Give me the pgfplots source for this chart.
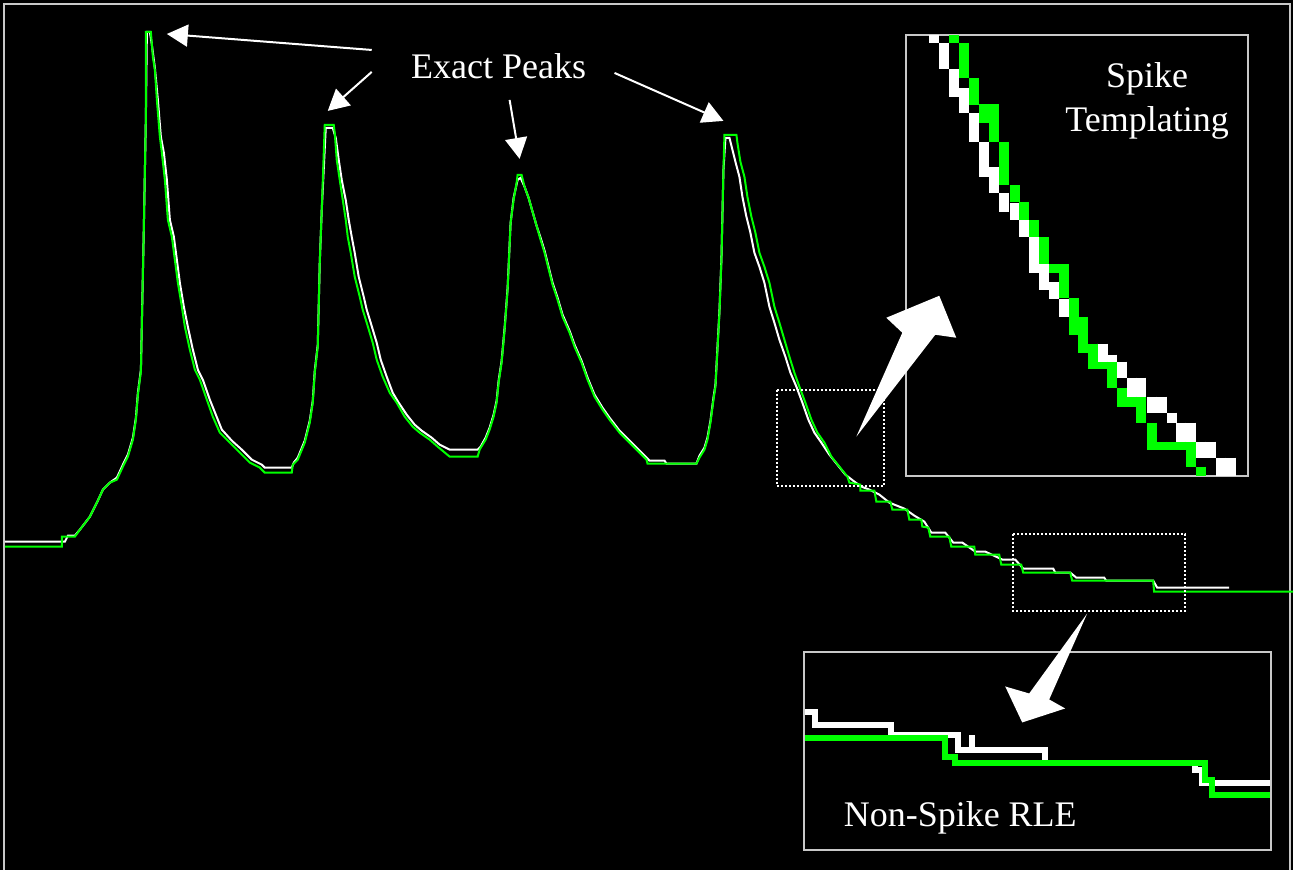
\documentclass[border=0pt]{standalone}
\usepackage{pgfplots}
\pgfplotsset{compat=1.18}
\usepackage{fontspec}
\setmainfont{Liberation Serif}
\usetikzlibrary{arrows.meta}
\definecolor{lime}{RGB}{0,255,0}
\definecolor{framegray}{RGB}{200,200,200}
\begin{document}
\begin{tikzpicture}
\fill[black] (0,0) rectangle (647pt,435.5pt);
\begin{axis}[at={(0,0)},anchor=south west,
  width=647pt,height=435.5pt,scale only axis,
  xmin=0,xmax=1294,ymin=0,ymax=871,y dir=reverse,
  axis lines=none,xtick=\empty,ytick=\empty,clip=false,
  unbounded coords=jump]
% frame
\draw[framegray,line width=0.6pt] (axis cs:4,871) -- (axis cs:4,4) -- (axis cs:1291,4) -- (axis cs:1291,871);
% white (original) signal
\addplot[white,line width=1pt,sharp plot] coordinates {
(5,542) (65,542) (68,536) (75,536) (80,530) (90,517) (97,503) (103,490) (110,483) (117,478) (123,465) (128,455) (133,438) (136,418) (138,393) (141,370) (144,225) (146,117) (147,32) (150,32) (152,45) (155,68) (158,100) (161,137) (164,153) (167,180) (170,220) (174,237) (177,260) (180,283) (184,307) (188,327) (193,350) (198,370) (203,380) (210,400) (216,415) (222,430) (232,441) (242,450) (252,460) (262,465) (265,468) (292,468) (294,463) (298,458) (305,441) (310,421) (313,401) (315,371) (318,345) (320,263) (322,210) (326,128) (333,128) (336,138) (339,160) (342,180) (346,200) (349,220) (352,237) (355,253) (359,277) (364,297) (367,310) (371,323) (377,343) (381,360) (387,377) (393,393) (399,403) (407,415) (415,425) (422,431) (432,438) (440,445) (450,450) (478,450) (481,447) (486,438) (490,428) (494,415) (497,401) (499,381) (502,361) (505,328) (508,288) (511,223) (514,198) (518,180) (521,178) (525,187) (529,198) (533,212) (537,226) (541,238) (545,251) (548,263) (553,283) (558,298) (563,315) (570,331) (575,345) (582,361) (588,378) (595,395) (603,408) (610,418) (620,431) (630,441) (640,451) (647,458) (650,461) (665,461) (667,464) (697,464) (700,456) (705,448) (708,438) (711,421) (714,398) (716,385) (718,348) (720,311) (722,258) (724,170) (726,138) (730,138) (733,150) (736,162) (740,177) (743,197) (747,217) (751,233) (755,253) (760,267) (765,283) (770,307) (775,323) (780,340) (786,357) (791,373) (797,387) (803,403) (809,420) (815,433) (822,443) (830,455) (838,465) (846,475) (855,482) (862,487) (870,490) (880,495) (890,503) (905,509) (915,516) (925,522) (932,533) (946,533) (954,543) (963,543) (976,552) (986,552) (1003,560) (1016,560) (1024,569) (1054,569) (1056,573) (1071,573) (1077,578) (1105,578) (1107,581) (1154,581) (1158,588) (1230,588)
};
% green (reconstructed) signal
\addplot[lime,line width=1pt,sharp plot] coordinates {
(5,547) (62,547) (62,537) (75,537) (80,530) (90,517) (97,503) (103,490) (110,483) (117,480) (123,467) (128,457) (133,440) (136,420) (138,395) (141,372) (144,225) (146,117) (146,32) (151,32) (153,57) (155,70) (157,100) (160,137) (162,153) (165,180) (168,220) (172,237) (175,260) (178,283) (182,307) (185,327) (190,350) (195,370) (200,380) (207,400) (213,417) (220,433) (230,443) (240,453) (250,463) (260,468) (265,473) (292,473) (293,465) (298,460) (305,443) (310,423) (313,403) (315,373) (318,347) (320,263) (322,210) (325,125) (334,125) (335,133) (337,160) (340,180) (343,200) (346,220) (348,237) (351,253) (355,277) (360,297) (363,310) (367,323) (373,343) (377,360) (383,377) (390,393) (397,403) (405,417) (413,427) (420,433) (430,440) (438,447) (450,457) (478,457) (480,450) (486,440) (490,430) (494,417) (497,403) (499,383) (502,363) (505,330) (508,290) (511,223) (514,200) (517,183) (518,175) (522,175) (525,187) (529,198) (533,212) (537,226) (541,240) (545,253) (548,265) (553,285) (558,300) (563,317) (570,333) (575,347) (582,363) (588,380) (595,397) (603,410) (610,420) (620,433) (630,443) (640,453) (647,460) (648,464) (697,464) (700,458) (705,450) (708,440) (711,423) (714,400) (716,387) (718,350) (720,313) (722,260) (724,170) (725,135) (737,135) (738,143) (741,162) (745,177) (748,197) (752,217) (756,233) (760,253) (765,267) (770,283) (775,307) (780,323) (785,340) (790,357) (795,373) (800,387) (806,403) (812,420) (818,433) (825,443) (832,457) (840,467) (848,477) (850,483) (861,485) (861,491) (875,491) (877,502) (891,502) (893,510) (908,510) (910,520) (922,520) (923,527) (929,528) (931,537) (950,537) (952,547) (975,547) (976,555) (1000,555) (1002,565) (1022,565) (1024,573) (1071,573) (1073,581) (1154,581) (1155,592) (1294,592)
};
% dotted zoom boxes
\draw[white,line width=1pt,dash pattern=on 1pt off 1pt] (axis cs:778,390) rectangle (axis cs:885,486);
\draw[white,line width=1pt,dash pattern=on 1pt off 1pt] (axis cs:1014,534) rectangle (axis cs:1186,611);
% inset 1: spike templating
\draw[framegray,line width=1pt,fill=black] (axis cs:907,35) rectangle (axis cs:1249,476);
\addplot[white,line width=4.9pt,line cap=butt] coordinates {
(935,35) (935,43) (935,nan) (945,43) (945,69) (945,nan) (955,69) (955,97) (955,nan)
(965,88) (965,113) (965,nan) (975,113) (975,142) (975,nan) (985,142) (985,177) (985,nan)
(995,167) (995,193) (995,nan) (1005,193) (1005,212) (1005,nan) (1016,203) (1016,220) (1016,nan)
(1025,220) (1025,237) (1025,nan) (1035,237) (1035,273) (1035,nan) (1045,263) (1045,290) (1045,nan)
(1055,282) (1055,299) (1055,nan) (1065,299) (1065,317) (1065,nan) (1075,317) (1075,335) (1075,nan)
(1084,335) (1084,350) (1084,nan) (1094,344) (1094,355) (1094,nan) (1104,344) (1104,362) (1104,nan)
(1113,355) (1113,365) (1113,nan) (1123,362) (1123,378) (1123,nan) (1133,378) (1133,397) (1133,nan)
(1142,378) (1142,397) (1142,nan) (1153,397) (1153,413) (1153,nan) (1163,397) (1163,413) (1163,nan)
(1173,413) (1173,423) (1173,nan) (1182,423) (1182,442) (1182,nan) (1192,423) (1192,442) (1192,nan)
(1202,442) (1202,458) (1202,nan) (1212,442) (1212,458) (1212,nan) (1222,458) (1222,476) (1222,nan)
(1232,458) (1232,476)
};
\addplot[lime,line width=4.9pt,line cap=butt] coordinates {
(955,35) (955,43) (955,nan) (965,43) (965,78) (965,nan) (975,78) (975,105) (975,nan)
(985,104) (985,123) (985,nan) (995,104) (995,142) (995,nan) (1005,142) (1005,185) (1005,nan)
(1016,185) (1016,202) (1016,nan) (1025,202) (1025,220) (1025,nan) (1035,220) (1035,237) (1035,nan)
(1045,237) (1045,264) (1045,nan) (1055,264) (1055,273) (1055,nan) (1065,264) (1065,298) (1065,nan)
(1075,298) (1075,335) (1075,nan) (1084,317) (1084,353) (1084,nan) (1094,344) (1094,369) (1094,nan)
(1104,362) (1104,369) (1104,nan) (1113,362) (1113,388) (1113,nan) (1123,388) (1123,407) (1123,nan)
(1133,397) (1133,407) (1133,nan) (1142,397) (1142,423) (1142,nan) (1153,423) (1153,450) (1153,nan)
(1163,442) (1163,450) (1163,nan) (1173,442) (1173,450) (1173,nan) (1182,442) (1182,450) (1182,nan)
(1192,442) (1192,467) (1192,nan) (1202,467) (1202,476)
};
\node[text=white,anchor=base,font=\fontsize{18}{20}\selectfont] at (axis cs:1148,88) {Spike};
\node[text=white,anchor=base,font=\fontsize{18}{20}\selectfont] at (axis cs:1148,132) {Templating};
% inset 2: non-spike RLE
\draw[framegray,line width=1pt,fill=black] (axis cs:805,652) rectangle (axis cs:1272,851);
\addplot[white,line width=3pt,sharp plot,line join=miter] coordinates {
(806,713) (816,713) (816,726) (892,726) (892,736) (959,736) (959,751) (1046,751) (1046,764) (1196,764) (1196,771) (1203,771) (1203,784) (1271,784)
};
\addplot[white,line width=3pt] coordinates {(973,736) (973,748)};
\addplot[lime,line width=3pt,sharp plot,line join=miter] coordinates {
(806,739) (946,739) (946,758) (956,758) (956,764) (1206,764) (1206,781) (1213,781) (1213,796) (1271,796)
};
\node[text=white,anchor=base,font=\fontsize{18}{20}\selectfont] at (axis cs:961,827) {Non-Spike RLE};
% big arrows
\fill[white] (axis cs:857,437) -- (axis cs:903,333) -- (axis cs:887,318) -- (axis cs:940,296) -- (axis cs:957,338) -- (axis cs:936,335) -- cycle;
\fill[white] (axis cs:1088,614) -- (axis cs:1050,700) -- (axis cs:1066,709) -- (axis cs:1023,723) -- (axis cs:1006,687) -- (axis cs:1030,694) -- cycle;
% annotation
\node[text=white,anchor=base,font=\fontsize{18}{20}\selectfont] at (axis cs:499,79) {Exact Peaks};
\draw[white,line width=1pt,-{Triangle[length=10.5pt,width=11pt]}] (axis cs:372,50) -- (axis cs:167,34);
\draw[white,line width=1pt,-{Triangle[length=10.5pt,width=11pt]}] (axis cs:372,72) -- (axis cs:328,111);
\draw[white,line width=1pt,-{Triangle[length=10.5pt,width=11pt]}] (axis cs:510,100) -- (axis cs:520,159);
\draw[white,line width=1pt,-{Triangle[length=10.5pt,width=11pt]}] (axis cs:615,73) -- (axis cs:724,121);
\end{axis}
\end{tikzpicture}
\end{document}
